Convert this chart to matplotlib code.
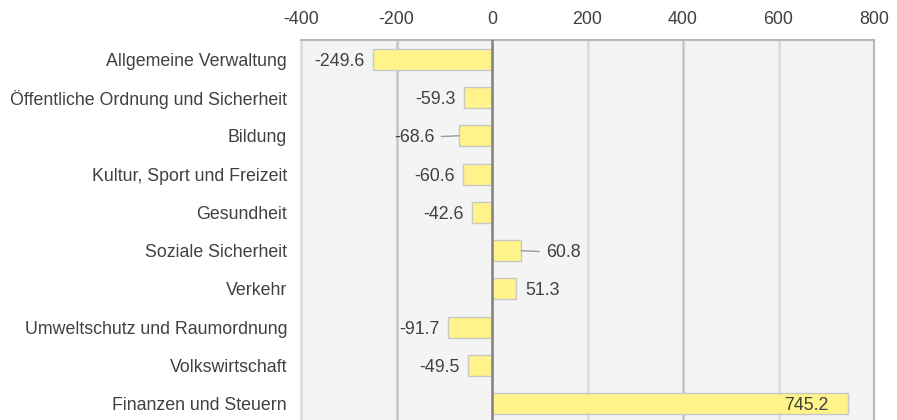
import matplotlib
matplotlib.use("Agg")
import matplotlib.pyplot as plt

categories = [
    "Allgemeine Verwaltung",
    "Öffentliche Ordnung und Sicherheit",
    "Bildung",
    "Kultur, Sport und Freizeit",
    "Gesundheit",
    "Soziale Sicherheit",
    "Verkehr",
    "Umweltschutz und Raumordnung",
    "Volkswirtschaft",
    "Finanzen und Steuern",
]
values = [-249.6, -59.3, -68.6, -60.6, -42.6, 60.8, 51.3, -91.7, -49.5, 745.2]
xticks = [-400, -200, 0, 200, 400, 600, 800]
# label placement: 'out' = outside bar, 'lead' = outside with leader line, 'in' = inside bar end
label_mode = ["out", "out", "lead", "out", "out", "lead", "out", "out", "out", "in"]
dark_grid = [-200, 400]

plt.rcParams["font.family"] = ["Liberation Sans", "DejaVu Sans"]
text_color = "#404040"
fs = 12.8

fig = plt.figure(figsize=(8.97, 4.2), dpi=100)
ax = fig.add_axes([301 / 897, 1 - 423 / 420, (874 - 301) / 897, (423 - 40) / 420])
ax.set_facecolor("#f4f4f4")

ypos = list(range(len(categories)))
ax.barh(ypos, values, height=0.55, color="#fff38a", edgecolor="#c8c8c8", linewidth=1.0, zorder=3)

ax.set_xlim(xticks[0], xticks[-1])
ax.set_ylim(len(categories) - 0.5, -0.5)

for t in xticks:
    if t == 0:
        ax.axvline(t, color="#8a8a8a", lw=2.0, zorder=4)
    elif t in dark_grid:
        ax.axvline(t, color="#e0e0e0", lw=2.5, zorder=1)
        ax.axvline(t, color="#bcbcbc", lw=1.0, zorder=1)
    else:
        ax.axvline(t, color="#dedede", lw=2.2, zorder=1)

for s in ["top", "right"]:
    ax.spines[s].set_color("#b8b8b8")
    ax.spines[s].set_linewidth(1.5)
ax.spines["left"].set_color("#dedede")
ax.spines["left"].set_linewidth(2)
ax.spines["bottom"].set_visible(False)

ax.xaxis.tick_top()
ax.set_xticks(xticks)
ax.set_xticklabels([str(t) for t in xticks])
ax.tick_params(axis="x", length=0, pad=9, labelsize=fs, labelcolor=text_color)
ax.set_yticks(ypos)
ax.set_yticklabels(categories)
ax.tick_params(axis="y", length=0, pad=10, labelsize=fs, labelcolor=text_color)

for y, v, m in zip(ypos, values, label_mode):
    sign = 1 if v >= 0 else -1
    txt = f"{v:.1f}"
    if m == "in":
        ax.annotate(txt, (v, y), xytext=(-14, 0), textcoords="offset points",
                    ha="right", va="center_baseline", fontsize=fs, color=text_color, zorder=5)
    elif m == "lead":
        ax.annotate(txt, (v, y), xytext=(sign * 18, 0), textcoords="offset points",
                    ha="left" if sign > 0 else "right", va="center_baseline",
                    fontsize=fs, color=text_color, zorder=5,
                    arrowprops=dict(arrowstyle="-", color="#999999", lw=1.0,
                                    shrinkA=3, shrinkB=0))
    else:
        ax.annotate(txt, (v, y), xytext=(sign * 6, 0), textcoords="offset points",
                    ha="left" if sign > 0 else "right", va="center_baseline",
                    fontsize=fs, color=text_color, zorder=5)

fig.savefig("out.png", dpi=100)
